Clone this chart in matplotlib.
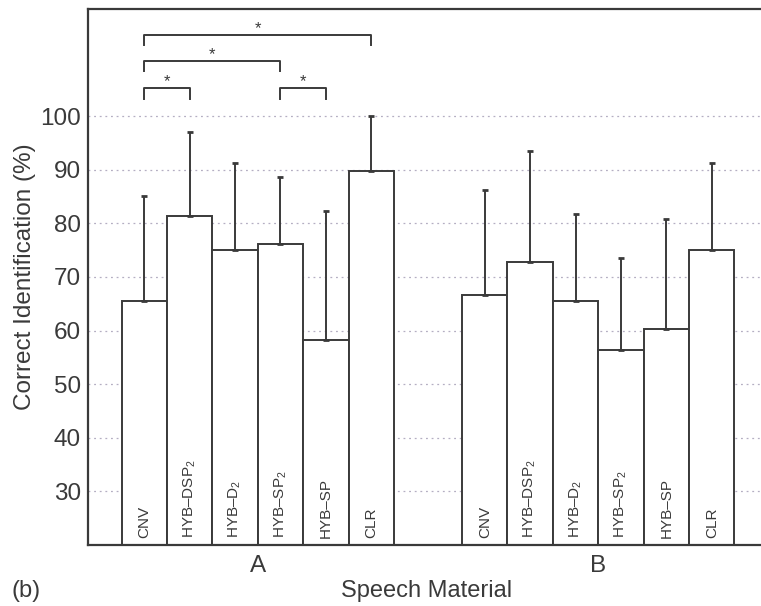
import numpy as np
import matplotlib
matplotlib.use("Agg")
import matplotlib.pyplot as plt

plt.rcParams["font.family"] = ["Liberation Sans", "DejaVu Sans"]
plt.rcParams["mathtext.fontset"] = "custom"
plt.rcParams["mathtext.rm"] = "Liberation Sans"
plt.rcParams["mathtext.default"] = "regular"

# conditions per material set
conditions = ["CNV", "HYB\u2013DSP$_2$", "HYB\u2013D$_2$", "HYB\u2013SP$_2$", "HYB\u2013SP", "CLR"]
groups = ["A", "B"]

mean_a = [65.6, 81.4, 75.0, 76.1, 58.2, 89.7]
upper_a = [85.1, 97.0, 91.2, 88.6, 82.3, 100.0]
mean_b = [66.7, 72.8, 65.6, 56.3, 60.3, 75.0]
upper_b = [86.2, 93.5, 81.8, 73.5, 80.9, 91.2]

# significance pairs (indices into group A), bracket level
sig_pairs = [(0, 1, 105.2), (3, 4, 105.2), (0, 3, 110.3), (0, 5, 115.1)]

ink = "#3a3a3a"

fig = plt.figure(figsize=(7.61, 6.06), dpi=100)
x0, x1 = -0.24, 15.0
ax = fig.add_axes([88 / 761, 61 / 606, (x1 - x0) * 45.4 / 761, 536 / 606])

pos_a = np.arange(1, 7)
pos_b = np.arange(1, 7) + 7.5

for pos, means, uppers in [(pos_a, mean_a, upper_a), (pos_b, mean_b, upper_b)]:
    ax.bar(pos, np.array(means) - 20, bottom=20, width=1.0, color="white",
           edgecolor=ink, linewidth=1.4, zorder=2)
    ax.errorbar(pos, means, yerr=[np.zeros(6), np.array(uppers) - np.array(means)],
                fmt="none", ecolor=ink, elinewidth=1.4, capsize=2.5, capthick=2.0, zorder=3)
    for p, lab in zip(pos, conditions):
        ax.text(p, 21.3, lab, rotation=90, ha="center", va="bottom",
                fontsize=11, color=ink, zorder=4)

# significance brackets
for i, j, lev in sig_pairs:
    xa, xb = pos_a[i], pos_a[j]
    ax.plot([xa, xa, xb, xb], [lev - 1.9, lev, lev, lev - 1.9], color=ink,
            linewidth=1.4, clip_on=False, zorder=3)
    ax.text((xa + xb) / 2, lev - 0.2, "*", ha="center", va="bottom",
            fontsize=12, color=ink)

ax.set_xlim(x0, x1)
ax.set_ylim(20, 120)
ax.set_yticks(np.arange(30, 101, 10))
ax.set_xticks([pos_a.mean(), pos_b.mean()])
ax.set_xticklabels(groups)
ax.tick_params(axis="both", length=0, labelsize=17.5, colors=ink, pad=5)
ax.tick_params(axis="x", pad=7)
ax.yaxis.grid(True, linestyle=(0, (1.5, 3)), color="#b4aec2", linewidth=0.9, zorder=0)
ax.set_axisbelow(True)
for s in ax.spines.values():
    s.set_color(ink)
    s.set_linewidth(1.6)

ax.set_ylabel("Correct Identification (%)", fontsize=17.5, color=ink, labelpad=3)
fig.text(427 / 761, 1 - 591 / 606, "Speech Material", ha="center", va="center",
         fontsize=17, color=ink)
fig.text(26 / 761, 1 - 591 / 606, "(b)", ha="center", va="center",
         fontsize=17, color=ink)

fig.savefig("out.png", dpi=100)
